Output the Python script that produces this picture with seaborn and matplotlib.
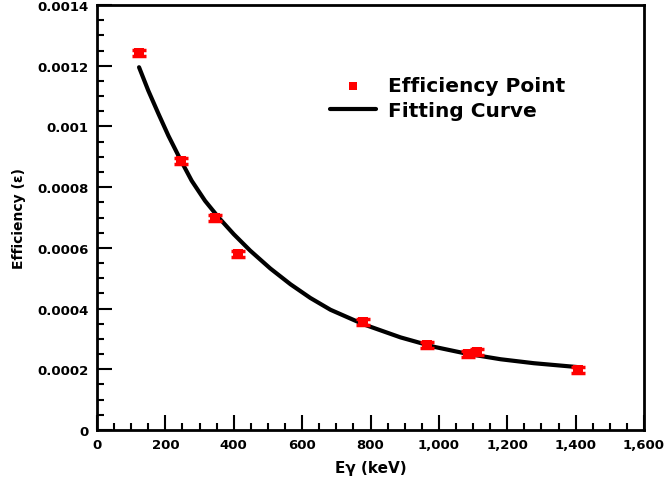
import matplotlib
matplotlib.use("Agg")
import matplotlib.pyplot as plt
import seaborn as sns
import numpy as np
import pandas as pd
from matplotlib.ticker import MultipleLocator, FuncFormatter

# Data
energy_kev = [121.8, 244.7, 344.3, 411.1, 778.9, 964.1, 1085.8, 1112.1, 1408.0]
efficiency = [0.001242, 0.000886, 0.000698, 0.000580, 0.000356, 0.000280, 0.000250, 0.000258, 0.000198]
efficiency_err = [0.00001] * 9

curve_x = [123, 150, 180, 209, 243, 277, 316, 355, 400, 448, 507, 566, 624, 683,
           780, 888, 986, 1083, 1181, 1278, 1408]
curve_y = [0.001195, 0.001118, 0.001041, 0.000969, 0.000893, 0.000821, 0.000755, 0.000701,
           0.000645, 0.000591, 0.000532, 0.000480, 0.000435, 0.000396, 0.000348, 0.000305,
           0.000274, 0.000251, 0.000233, 0.000220, 0.000207]

sns.set_theme(style="white")
plt.rcParams['font.family'] = ['DejaVu Sans']
plt.rcParams['font.weight'] = 'bold'

fig = plt.figure(figsize=(6.68, 4.89), dpi=100)
ax = fig.add_axes([97/668, 58/489, (644-97)/668, (431-6)/489])

pts = pd.DataFrame({"E": energy_kev, "eff": efficiency})
crv = pd.DataFrame({"E": curve_x, "eff": curve_y})

ax.errorbar(energy_kev, efficiency, yerr=efficiency_err, fmt='none', ecolor='red',
            elinewidth=2, capsize=5, capthick=2.5, zorder=3)
sns.scatterplot(data=pts, x="E", y="eff", ax=ax, marker='s', color='red', s=45,
                edgecolor='red', linewidth=0, label="Efficiency Point", zorder=4)
sns.lineplot(data=crv, x="E", y="eff", ax=ax, color='black', linewidth=3,
             label="Fitting Curve", zorder=2)

ax.set_xlim(0, 1600)
ax.set_ylim(0, 0.0014)
ax.xaxis.set_major_locator(MultipleLocator(200))
ax.xaxis.set_minor_locator(MultipleLocator(50))
ax.yaxis.set_major_locator(MultipleLocator(0.0002))
ax.yaxis.set_minor_locator(MultipleLocator(0.00005))
ax.xaxis.set_major_formatter(FuncFormatter(lambda v, p: f"{v:,.0f}"))
ax.yaxis.set_major_formatter(FuncFormatter(lambda v, p: "0" if abs(v) < 1e-12 else f"{v:g}"))

ax.tick_params(axis='both', which='major', direction='in', length=11, width=1.5,
               labelsize=9.5, color='black', labelcolor='black', bottom=True, left=True, pad=6)
ax.tick_params(axis='both', which='minor', direction='in', length=5, width=1.5,
               color='black', bottom=True, left=True)
for lab in ax.get_xticklabels() + ax.get_yticklabels():
    lab.set_fontweight('bold')

for s in ax.spines.values():
    s.set_color('black')
    s.set_linewidth(2)

ax.set_xlabel("Eγ (keV)", fontsize=11, fontweight='bold', color='black', labelpad=6)
ax.set_ylabel("Efficiency (ε)", fontsize=10, fontweight='bold', color='black', labelpad=8)

leg = ax.legend(loc='upper left', bbox_to_anchor=(0.392, 0.875), frameon=False,
                prop={'size': 14.5, 'weight': 'bold'}, handlelength=2.3, handletextpad=0.6,
                labelspacing=0.3, markerscale=0.9)
for t in leg.get_texts():
    t.set_color('black')
ax.grid(False)

fig.savefig("out.png", dpi=100)
